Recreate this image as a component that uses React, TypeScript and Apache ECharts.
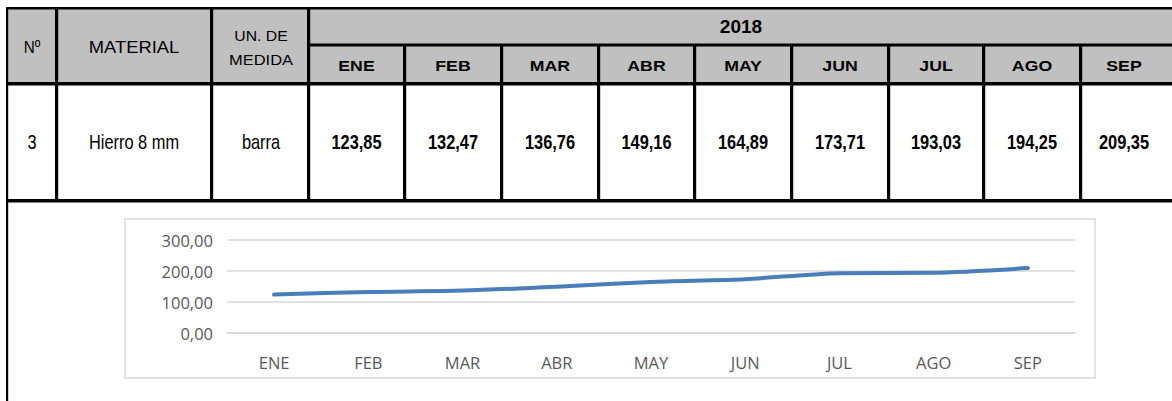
import React, { useEffect, useRef } from "react";
import * as echarts from "echarts";

// ---- data ----
const months = ["ENE", "FEB", "MAR", "ABR", "MAY", "JUN", "JUL", "AGO", "SEP"];
const prices = [123.85, 132.47, 136.76, 149.16, 164.89, 173.71, 193.03, 194.25, 209.35];
const yTicks = [0, 100, 200, 300];
const headerLabels = ["Nº", "MATERIAL"];
const unitHeader = ["UN. DE", "MEDIDA"];
const yearLabel = "2018";
const rowInfo = ["3", "Hierro 8 mm", "barra"];

// ---- layout (pixels) ----
const W = 1172;
const H = 401;
const fixedCenters = [32, 134, 261];
const monthLines = [403, 500, 597, 693, 790, 887, 982, 1079];
const monthStart = 310;
const monthEnd = 1166;

const fmt = (v: number) => v.toFixed(2).replace(".", ",");

function monthCenters(): number[] {
  const lefts = [monthStart, ...monthLines.map((x) => x + 3)];
  const rights = [...monthLines, monthEnd];
  return lefts.map((l, i) => (l + rights[i]) / 2);
}

function txt(
  text: string,
  x: number,
  y: number,
  size: number,
  weight: string,
  scaleX = 1,
  family = "'Liberation Sans', Arial, sans-serif"
) {
  return {
    type: "text",
    x,
    y,
    scaleX,
    z: 10,
    silent: true,
    style: {
      text,
      fill: "#000",
      fontSize: size,
      fontWeight: weight,
      fontFamily: family,
      align: "center",
      verticalAlign: "middle",
      textAlign: "center",
      textVerticalAlign: "middle",
    },
  };
}

function rect(x: number, y: number, w: number, h: number, fill: string, z = 5) {
  return { type: "rect", z, silent: true, shape: { x, y, width: w, height: h }, style: { fill } };
}

export default function App() {
  const ref = useRef<HTMLDivElement>(null);

  useEffect(() => {
    if (!ref.current) return;
    const chart = echarts.init(ref.current, undefined, { renderer: "svg" });
    const centers = monthCenters();
    const black = "#000";

    const elements: any[] = [];
    // header fill
    elements.push(rect(8, 9, W - 8, 73, "#c0c0c0", 1));
    // horizontal lines
    elements.push(rect(6, 7, W - 6, 2.5, black));
    elements.push(rect(310, 43.5, W - 310, 3, black));
    elements.push(rect(6, 82, W - 6, 3.5, black));
    elements.push(rect(6, 199, W - 6, 3.5, black));
    // left border
    elements.push(rect(6, 7, 2.2, H - 7, black));
    // fixed column lines
    elements.push(rect(55, 7, 3.2, 194, black));
    elements.push(rect(210, 7, 3.2, 194, black));
    elements.push(rect(307, 7, 3.2, 194, black));
    monthLines.forEach((x) => elements.push(rect(x, 45, 3.2, 156, black)));

    // header texts
    elements.push(txt(headerLabels[0], fixedCenters[0], 47, 17, "normal", 0.9));
    elements.push(txt(headerLabels[1], fixedCenters[1], 47, 17, "normal", 1.08));
    elements.push(txt(unitHeader[0], fixedCenters[2], 36, 15, "normal", 1.05));
    elements.push(txt(unitHeader[1], fixedCenters[2], 60, 15, "normal", 1.1));
    elements.push(txt(yearLabel, (310 + monthEnd) / 2 + 3, 26, 19, "bold", 1));
    months.forEach((m, i) => elements.push(txt(m, centers[i], 66, 15, "bold", 1.18)));

    // data row
    rowInfo.forEach((t, i) => elements.push(txt(t, fixedCenters[i], 142, 20, "normal", 0.82)));
    prices.forEach((v, i) => elements.push(txt(fmt(v), centers[i], 142, 20, "bold", 0.82)));

    // chart frame
    elements.push({
      type: "rect",
      z: 0,
      silent: true,
      shape: { x: 125, y: 219, width: 970, height: 159 },
      style: { fill: "none", stroke: "#d9d9d9", lineWidth: 1.5 },
    });

    const labelFont = "'Open Sans', 'Noto Sans', sans-serif";

    chart.setOption({
      animation: false,
      backgroundColor: "#fff",
      graphic: { elements },
      grid: { left: 227, right: W - 1075, top: 240, bottom: H - 333, containLabel: false },
      xAxis: {
        type: "category",
        data: months,
        boundaryGap: true,
        axisLine: { show: true, lineStyle: { color: "#d9d9d9", width: 1.5 } },
        axisTick: { show: false },
        axisLabel: { color: "#595959", fontSize: 16.5, fontFamily: labelFont, margin: 21 },
      },
      yAxis: {
        type: "value",
        min: yTicks[0],
        max: yTicks[yTicks.length - 1],
        interval: yTicks[1] - yTicks[0],
        axisLine: { show: false },
        axisTick: { show: false },
        splitLine: { lineStyle: { color: "#d9d9d9", width: 1.5 } },
        axisLabel: {
          color: "#595959",
          fontSize: 16.5,
          fontFamily: labelFont,
          margin: 14,
          formatter: (v: number) => fmt(v),
        },
      },
      series: [
        {
          type: "line",
          data: prices,
          smooth: 0.25,
          symbol: "none",
          lineStyle: { color: "#4a7ebb", width: 4, cap: "round", join: "round" },
          z: 3,
        },
      ],
    });

    return () => chart.dispose();
  }, []);

  return (
    <div
      ref={ref}
      style={{ position: "fixed", left: 0, top: 0, width: W, height: H, background: "#fff" }}
    />
  );
}
